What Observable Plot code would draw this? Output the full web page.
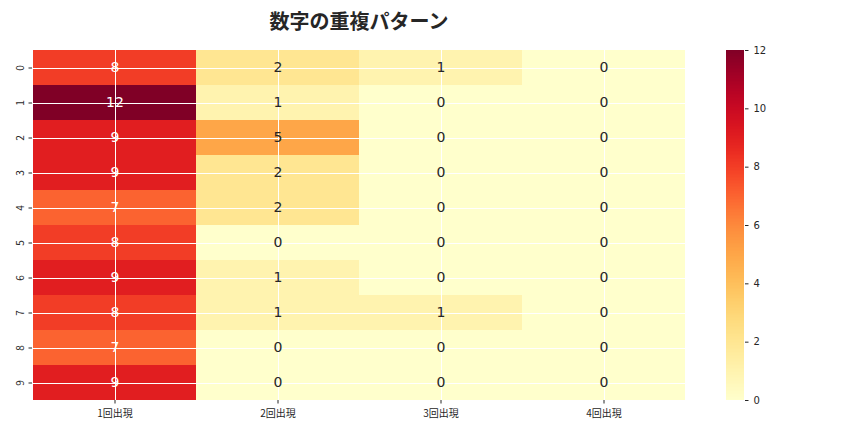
<!DOCTYPE html>
<html><head><meta charset="utf-8">
<script src="https://cdn.jsdelivr.net/npm/d3@7"></script>
<script src="https://cdn.jsdelivr.net/npm/@observablehq/plot@0.6"></script>
<style>
body{margin:0;background:#fff;width:864px;height:432px;position:relative;overflow:hidden;font-family:"Noto Sans CJK JP","DejaVu Sans",sans-serif;}
#title{position:absolute;left:32px;width:654px;top:6px;text-align:center;font-size:20px;font-weight:bold;color:#262626;font-family:"Noto Sans CJK JP",sans-serif;}
#main{position:absolute;left:0;top:40px;}
#cbar{position:absolute;left:700px;top:40px;}
</style></head>
<body>
<div id="title">数字の重複パターン</div>
<div id="main"></div>
<div id="cbar"></div>
<script>
const digits = ["0","1","2","3","4","5","6","7","8","9"];
const columns = ["1回出現","2回出現","3回出現","4回出現"];
const once   = [8,12,9,9,7,8,9,8,7,9];
const twice  = [2,1,5,2,2,0,1,1,0,0];
const thrice = [1,0,0,0,0,0,0,1,0,0];
const four   = [0,0,0,0,0,0,0,0,0,0];
const colorTicks = [0,2,4,6,8,10,12];

const series = [once, twice, thrice, four];
const cells = [];
digits.forEach((d, i) => columns.forEach((c, j) => cells.push({digit: d, col: c, value: series[j][i]})));

const color = {type: "linear", scheme: "YlOrRd", domain: [0, 12]};
const fontFam = "'DejaVu Sans','Noto Sans CJK JP',sans-serif";

const main = Plot.plot({
  width: 864, height: 392,
  marginLeft: 32, marginRight: 178, marginTop: 10, marginBottom: 32,
  style: {fontFamily: "'Noto Sans CJK JP','DejaVu Sans',sans-serif", fontSize: "10px", color: "#262626", background: "#fff"},
  x: {domain: columns, padding: 0, label: null, tickSize: 3.5},
  y: {domain: digits, padding: 0, label: null, tickSize: 3.5, tickRotate: -90},
  color,
  marks: [
    Plot.cell(cells, {x: "col", y: "digit", fill: "value", inset: 0, shapeRendering: "crispEdges"}),
    Plot.ruleX(columns, {x: d => d, stroke: "#fff", strokeWidth: 1, shapeRendering: "crispEdges"}),
    Plot.ruleY(digits, {y: d => d, stroke: "#fff", strokeWidth: 1, shapeRendering: "crispEdges"}),
    Plot.text(cells, {x: "col", y: "digit", text: d => String(d.value), fill: d => d.value >= 6 ? "#fff" : "#262626", fontSize: 14, fontFamily: fontFam})
  ]
});
document.getElementById("main").append(main);

const step = 0.05;
const steps = d3.range(0, 12, step);
const cbar = Plot.plot({
  width: 100, height: 392,
  marginLeft: 26, marginRight: 56, marginTop: 10, marginBottom: 32,
  style: {fontFamily: fontFam, fontSize: "10px", color: "#262626", background: "transparent"},
  y: {domain: [0, 12], axis: "right", ticks: colorTicks, tickSize: 3.5, label: null, tickFormat: d => String(d)},
  color,
  marks: [
    Plot.rect(steps, {y1: d => d, y2: d => Math.min(12, d + step), fill: d => d + step / 2, shapeRendering: "crispEdges"})
  ]
});
document.getElementById("cbar").append(cbar);
</script>
</body></html>
